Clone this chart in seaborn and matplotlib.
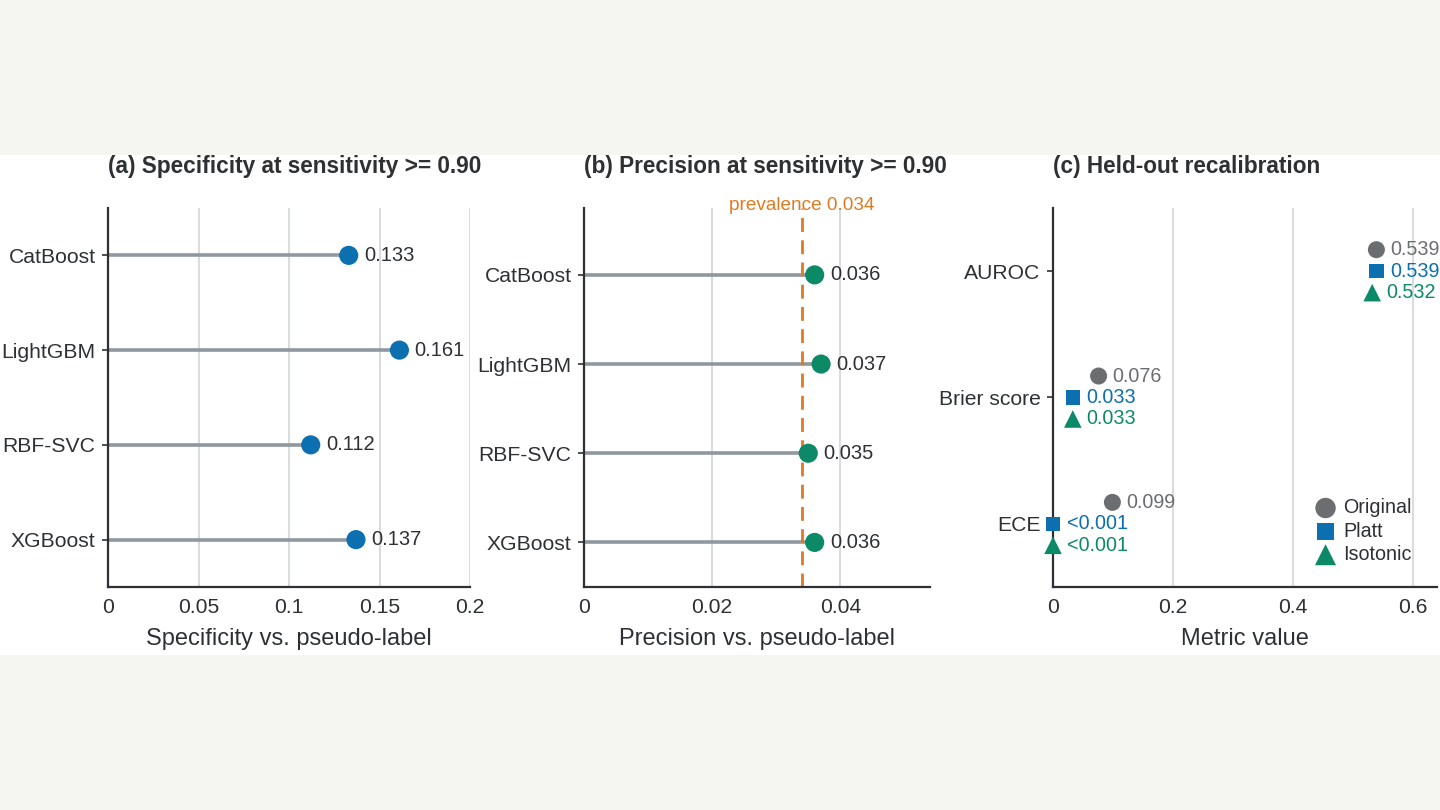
import numpy as np
import pandas as pd
import matplotlib
matplotlib.use("Agg")
import matplotlib.pyplot as plt
from matplotlib.patches import Rectangle
import seaborn as sns

# ── Data ──────────────────────────────────────────────────────────────────
models = ["CatBoost", "LightGBM", "RBF-SVC", "XGBoost"]
specificity = [0.133, 0.161, 0.112, 0.137]
precision = [0.036, 0.037, 0.035, 0.036]
prevalence = 0.034

metrics = ["AUROC", "Brier score", "ECE"]
methods = ["Original", "Platt", "Isotonic"]
recal_values = {
    "Original": [0.539, 0.076, 0.099],
    "Platt": [0.539, 0.033, 0.0],
    "Isotonic": [0.532, 0.033, 0.0],
}
recal_labels = {
    "Original": ["0.539", "0.076", "0.099"],
    "Platt": ["0.539", "0.033", "<0.001"],
    "Isotonic": ["0.532", "0.033", "<0.001"],
}

# ── Style ─────────────────────────────────────────────────────────────────
sns.set_theme(style="white")
plt.rcParams["font.family"] = ["Liberation Sans", "DejaVu Sans"]

TEXT = "#2e3133"
BLUE = "#0b6fb0"
GREEN = "#0c8a68"
GREY = "#6b6e70"
STEM = "#8f979f"
ORANGE = "#e07a22"
GRID = "#d9dcdf"
method_colors = {"Original": GREY, "Platt": BLUE, "Isotonic": GREEN}
method_markers = {"Original": "o", "Platt": "s", "Isotonic": "^"}
method_sizes = {"Original": 150, "Platt": 110, "Isotonic": 160}
method_offset = {"Original": -0.17, "Platt": 0.0, "Isotonic": 0.17}

W, H = 1440, 810
fig = plt.figure(figsize=(W / 100, H / 100), dpi=100)
fig.patch.set_facecolor("#f5f5f2")
# white band behind the panels
fig.add_artist(Rectangle((0, 1 - 655 / H), 1, 500 / H, transform=fig.transFigure,
                         facecolor="white", edgecolor="none", zorder=0))


def px_axes(left, right, top=208, bottom=587):
    return fig.add_axes([left / W, 1 - bottom / H, (right - left) / W, (bottom - top) / H])


def style_axes(ax, xticks, xlabel, title):
    ax.set_facecolor("none")
    for s in ["top", "right"]:
        ax.spines[s].set_visible(False)
    for s in ["left", "bottom"]:
        ax.spines[s].set_color(TEXT)
        ax.spines[s].set_linewidth(1.6)
    ax.set_xticks(xticks)
    ax.set_xticklabels([f"{t:g}" for t in xticks])
    ax.tick_params(axis="x", length=0, pad=8, labelsize=15.2, labelcolor=TEXT)
    ax.tick_params(axis="y", length=4, width=1.2, color=TEXT, pad=5, labelsize=15.2, labelcolor=TEXT, left=True)
    ax.grid(axis="x", color=GRID, linewidth=1.5)
    ax.grid(axis="y", visible=False)
    ax.set_axisbelow(True)
    ax.set_xlabel(xlabel, fontsize=17, color=TEXT, labelpad=8)
    ax.set_ylabel("")
    ax.set_title(title, loc="left", fontsize=16.3, fontweight="bold", color=TEXT, pad=25)


# ── (a) Specificity lollipop ──────────────────────────────────────────────
df_a = pd.DataFrame({"model": models, "value": specificity})
ax_a = px_axes(108, 470)
ax_a.hlines(df_a["model"], 0, df_a["value"], color=STEM, linewidth=2.6, zorder=2)
sns.scatterplot(data=df_a, x="value", y="model", ax=ax_a, color=BLUE, s=190,
                edgecolor="none", zorder=3, legend=False)
for i, v in enumerate(specificity):
    ax_a.annotate(f"{v:.3f}", (v, i), xytext=(11, 0), textcoords="offset points",
                  va="center", ha="left", fontsize=14.5, color=TEXT)
ax_a.set_xlim(0, 0.2)
ax_a.set_ylim(3.5, -0.5)
style_axes(ax_a, [0, 0.05, 0.1, 0.15, 0.2], "Specificity vs. pseudo-label",
           "(a) Specificity at sensitivity >= 0.90")

# ── (b) Precision lollipop ────────────────────────────────────────────────
df_b = pd.DataFrame({"model": models, "value": precision})
ax_b = px_axes(584, 930)
ax_b.hlines(df_b["model"], 0, df_b["value"], color=STEM, linewidth=2.6, zorder=2)
ax_b.axvline(prevalence, color=ORANGE, linestyle=(0, (5, 3)), linewidth=2.0, zorder=2.5)
sns.scatterplot(data=df_b, x="value", y="model", ax=ax_b, color=GREEN, s=190,
                edgecolor="none", zorder=3, legend=False)
for i, v in enumerate(precision):
    ax_b.annotate(f"{v:.3f}", (v, i), xytext=(11, 0), textcoords="offset points",
                  va="center", ha="left", fontsize=14.5, color=TEXT)
ax_b.text(prevalence, 1.006, f"prevalence {prevalence:.3f}", transform=ax_b.get_xaxis_transform(),
          ha="center", va="center", fontsize=13.7, color=ORANGE)
ax_b.set_xlim(0, 0.054)
ax_b.set_ylim(3.5, -0.75)
style_axes(ax_b, [0, 0.02, 0.04], "Precision vs. pseudo-label",
           "(b) Precision at sensitivity >= 0.90")

# ── (c) Recalibration dot plot ────────────────────────────────────────────
rows = []
for m in methods:
    for j, met in enumerate(metrics):
        rows.append({"method": m, "metric": met, "value": recal_values[m][j],
                     "label": recal_labels[m][j], "ypos": j + method_offset[m]})
df_c = pd.DataFrame(rows)

ax_c = px_axes(1053, 1437)
for m in methods:
    sub = df_c[df_c["method"] == m]
    sns.scatterplot(data=sub, x="value", y="ypos", ax=ax_c, color=method_colors[m],
                    marker=method_markers[m], s=method_sizes[m], edgecolor="none",
                    label=m, zorder=3, clip_on=False)
    for _, r in sub.iterrows():
        ax_c.annotate(r["label"], (r["value"], r["ypos"]), xytext=(10, 0),
                      textcoords="offset points", va="center", ha="left",
                      fontsize=14.2, color=method_colors[m])
ax_c.set_yticks(range(len(metrics)))
ax_c.set_yticklabels(metrics)
ax_c.set_xlim(0, 0.64)
ax_c.set_ylim(2.5, -0.5)
style_axes(ax_c, [0, 0.2, 0.4, 0.6], "Metric value", "(c) Held-out recalibration")
ax_c.legend(loc="lower right", bbox_to_anchor=(0.96, 0.035), frameon=False, fontsize=14.2,
            handletextpad=0.2, labelspacing=0.22, borderpad=0, labelcolor=TEXT,
            markerscale=1.2, handlelength=1.4)

fig.savefig("out.png", dpi=100, facecolor=fig.get_facecolor())
